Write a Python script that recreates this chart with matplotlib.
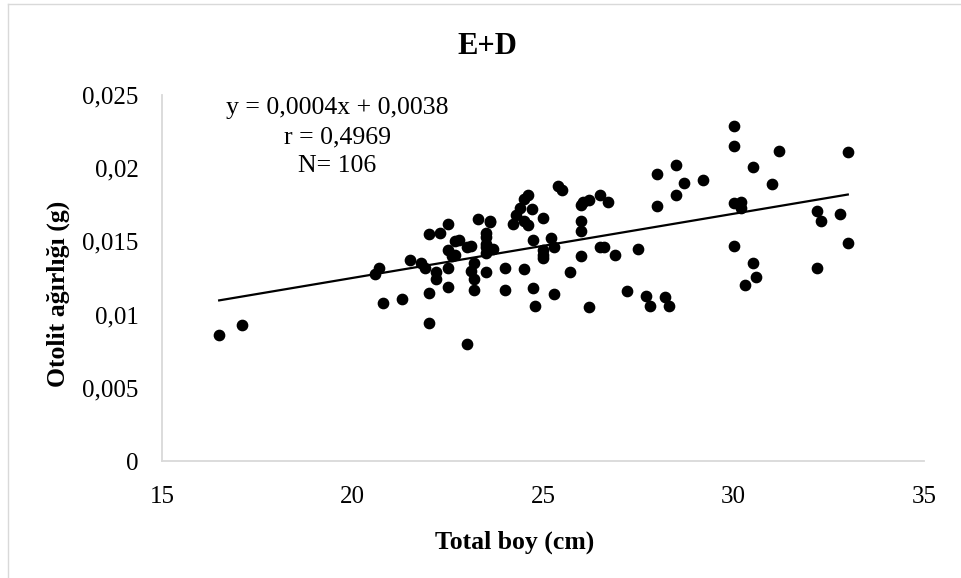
import numpy as np
import matplotlib
matplotlib.use("Agg")
import matplotlib.pyplot as plt
from matplotlib.ticker import FuncFormatter

plt.rcParams['font.family'] = ['Liberation Serif', 'DejaVu Serif']

# Total boy (cm) and otolit ağırlığı (g)
total_boy = [16.5, 17.1, 20.6, 20.7, 20.8, 21.3, 21.5, 21.8, 21.9, 22.0,
             22.0, 22.0, 22.2, 22.2, 22.3, 22.5, 22.5, 22.5, 22.5, 22.6,
             22.7, 22.7, 22.8, 23.0, 23.1, 23.0, 23.1, 23.2, 23.2, 23.2,
             23.3, 23.5, 23.5, 23.5, 23.5, 23.5, 23.6, 23.6, 23.7, 24.0,
             24.0, 24.2, 24.3, 24.4, 24.5, 24.6, 24.5, 24.6, 24.5, 24.7,
             24.75, 24.75, 24.8, 25.0, 25.0, 25.0, 25.0, 25.2, 25.3, 25.3,
             25.4, 25.5, 25.7, 26.0, 26.0, 26.0, 26.0, 26.05, 26.2, 26.2,
             26.5, 26.5, 26.6, 26.7, 26.9, 27.2, 27.5, 27.7, 27.8, 28.0,
             28.0, 28.2, 28.3, 28.5, 28.5, 28.7, 29.2, 30.0, 30.0, 30.0,
             30.0, 30.2, 30.2, 30.3, 30.5, 30.5, 30.6, 31.0, 31.2, 32.2,
             32.2, 32.3, 32.8, 33.0, 33.0, 23.5]
otolit = [0.0086, 0.0093, 0.0128, 0.0132, 0.0108, 0.0111, 0.0137, 0.0135, 0.0132, 0.0155,
          0.0115, 0.0094, 0.0129, 0.0124, 0.0156, 0.0162, 0.0144, 0.0132, 0.0119, 0.0140,
          0.0141, 0.0150, 0.0151, 0.0146, 0.0147, 0.0080, 0.0130, 0.0135, 0.0124, 0.0117,
          0.0165, 0.0156, 0.0153, 0.0146, 0.0142, 0.0129, 0.0164, 0.0163, 0.0145, 0.0132,
          0.0117, 0.0162, 0.0168, 0.0173, 0.0179, 0.0182, 0.0164, 0.0161, 0.0131, 0.0172,
          0.0151, 0.0118, 0.0106, 0.0166, 0.0144, 0.0139, 0.0141, 0.0152, 0.0146, 0.0114,
          0.0188, 0.0185, 0.0129, 0.0175, 0.0164, 0.0157, 0.0140, 0.0177, 0.0178, 0.0105,
          0.0182, 0.0146, 0.0146, 0.0177, 0.0141, 0.0116, 0.0145, 0.0113, 0.0106, 0.0196,
          0.0174, 0.0112, 0.0106, 0.0202, 0.0182, 0.0190, 0.0192, 0.0229, 0.0215, 0.0176,
          0.0147, 0.0177, 0.0173, 0.0120, 0.0201, 0.0135, 0.0126, 0.0189, 0.0212, 0.0171,
          0.0132, 0.0164, 0.0169, 0.0211, 0.0149, 0.0148]

x_ticks = [15, 20, 25, 30, 35]
y_ticks = [0, 0.005, 0.01, 0.015, 0.02, 0.025]

x = np.array(total_boy)
y = np.array(otolit)
slope, intercept = np.polyfit(x, y, 1)
x_fit = np.array([x.min(), x.max()])

fig = plt.figure(figsize=(9.61, 5.78), dpi=100)
ax = fig.add_axes([0.1686, 0.2024, 0.7929, 0.6332])

ax.scatter(x, y, s=55, color='black', zorder=3)
ax.plot(x_fit, slope * x_fit + intercept, color='black', lw=1.6)

ax.set_xlim(15, 35)
ax.set_ylim(0, 0.025)
ax.set_xticks(x_ticks)
ax.set_yticks(y_ticks)
ax.yaxis.set_major_formatter(FuncFormatter(lambda v, p: ('%g' % v).replace('.', ',')))
ax.tick_params(length=0, labelsize=18)
ax.tick_params(axis='x', pad=18)
ax.tick_params(axis='y', pad=17)

for s in ['top', 'right']:
    ax.spines[s].set_visible(False)
for s in ['left', 'bottom']:
    ax.spines[s].set_color('#d9d9d9')
    ax.spines[s].set_linewidth(1.3)

ax.set_xlabel('Total boy (cm)', fontsize=18.5, fontweight='bold')
ax.xaxis.set_label_coords((515 - 162) / 762, -(531 - 461) / 366)
ax.set_ylabel('Otolit ağırlığı (g)', fontsize=18.5, fontweight='bold')
ax.yaxis.set_label_coords(-(162 - 70) / 762, (461 - 294) / 366)

fig.text(487 / 961, 1 - 46 / 578, 'E+D', fontsize=22, fontweight='bold',
         ha='center', va='center')
fig.text(337 / 961, 1 - 137 / 578, 'y = 0,0004x + 0,0038\nr = 0,4969\nN= 106',
         fontsize=18.5, ha='center', va='center', linespacing=1.4)

# chart area border
fig.add_artist(plt.Line2D([8 / 961, 8 / 961], [0, 1 - 4 / 578], transform=fig.transFigure,
                          color='#d9d9d9', lw=1))
fig.add_artist(plt.Line2D([8 / 961, 1], [1 - 4 / 578, 1 - 4 / 578], transform=fig.transFigure,
                          color='#d9d9d9', lw=1))

fig.savefig('out.png', dpi=100)
